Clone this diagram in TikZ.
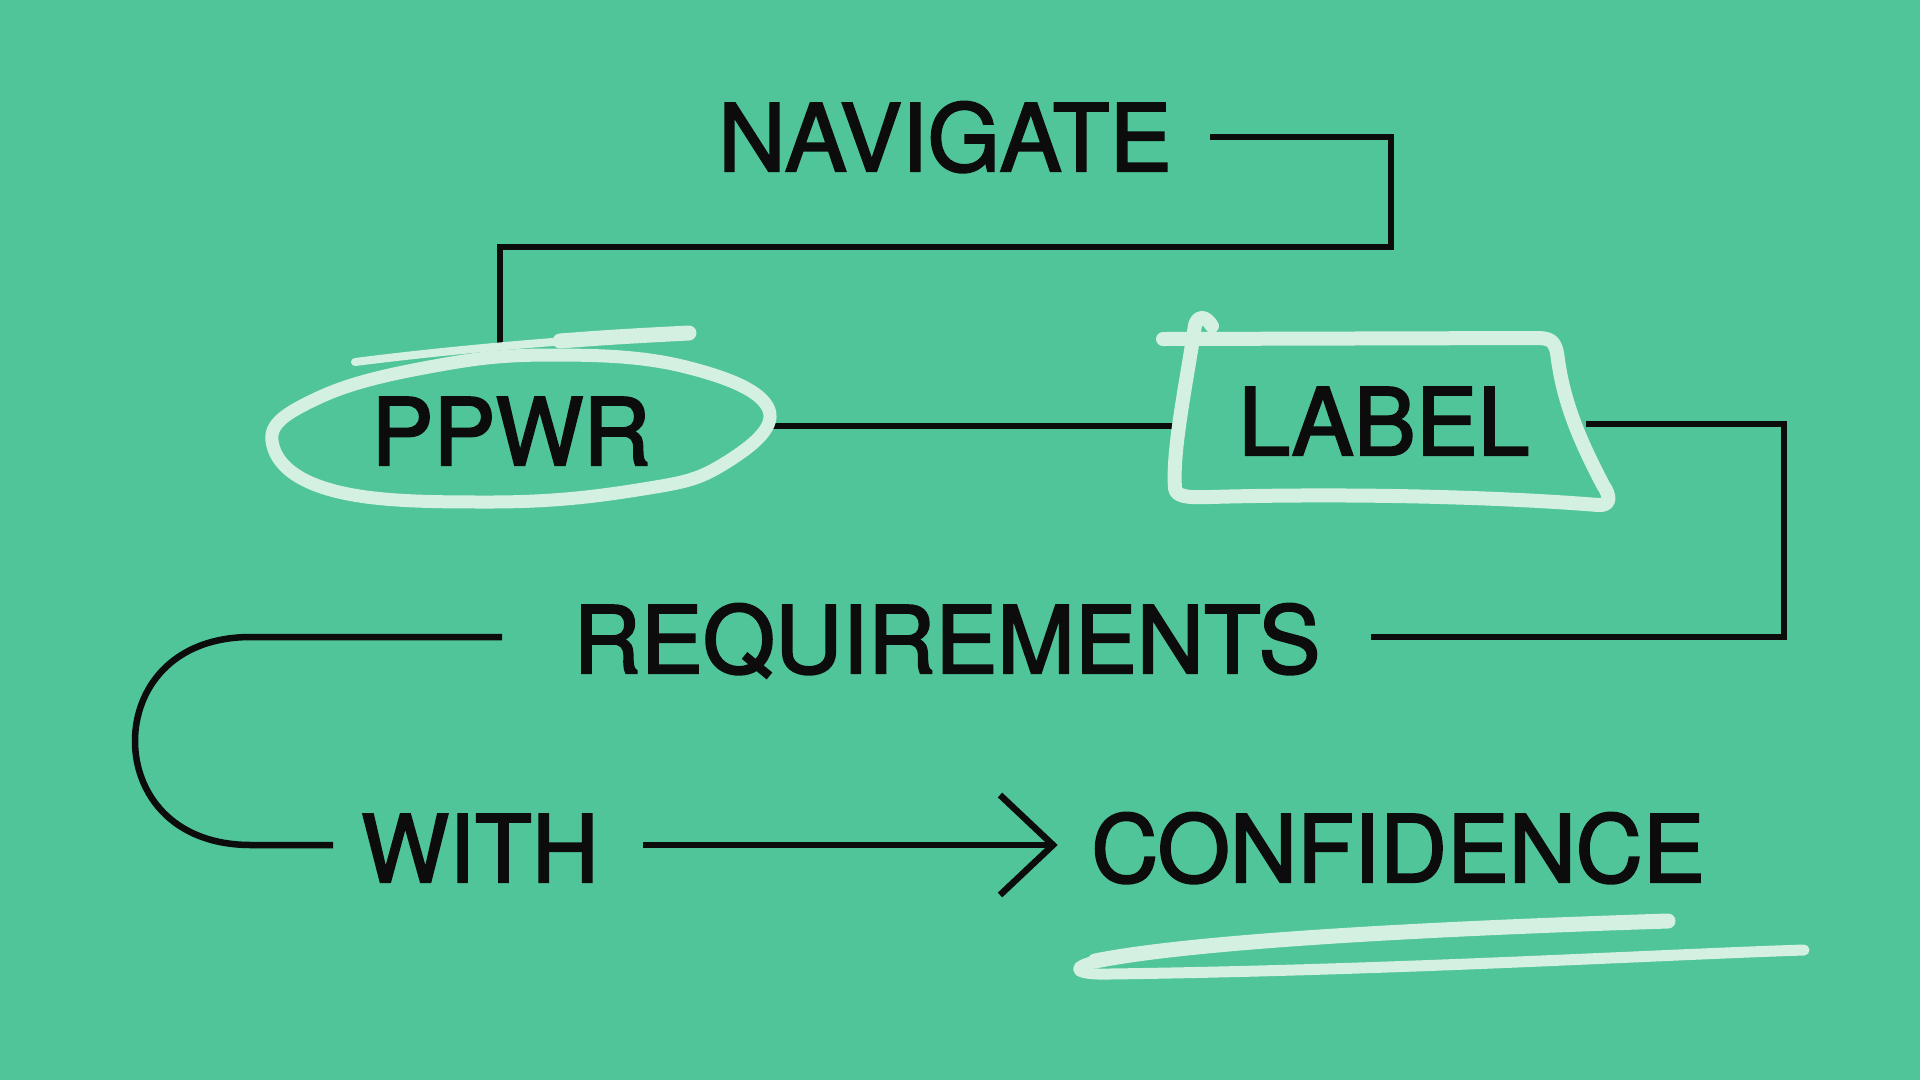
\documentclass[tikz,border=0pt]{standalone}
\usepackage{fontspec}
\setmainfont{TeX Gyre Heros}
\newfontfamily\wordfont{TeX Gyre Heros}[FakeBold=2.2]
\usetikzlibrary{calc}
\definecolor{bg}{RGB}{80,197,154}
\definecolor{chalk}{RGB}{212,240,224}
\definecolor{ink}{RGB}{12,12,12}
\begin{document}
\begin{tikzpicture}[x=1pt,y=-1pt,
  word/.style={font=\wordfont\fontsize{93pt}{100pt}\selectfont, text=ink, inner sep=0pt, anchor=base},
  wire/.style={draw=ink, line width=6.5pt},
  chalkline/.style={draw=chalk, line width=14pt, line cap=round, line join=round}]
\fill[bg] (0,0) rectangle (1920,1080);
\useasboundingbox (0,0) rectangle (1920,1080);

% words
\node[word] (nav)  at (945,171)  {NAVIGATE};
\node[word] (ppwr) at (511,465)  {PPWR};
\node[word] (lab)  at (1384,455) {LABEL};
\node[word] (req)  at (947,673)  {REQUIREMENTS};
\node[word] (with) at (480,882)  {WITH};
\node[word] (conf) at (1398,882) {CONFIDENCE};

% connector end points
\coordinate (navR)   at (1210,137);
\coordinate (ringT)  at (500,345);
\coordinate (ringE)  at (770,426);
\coordinate (boxW)   at (1176,426);
\coordinate (boxE)   at (1586,424);
\coordinate (reqR)   at (1371,637);
\coordinate (reqL)   at (502,637);
\coordinate (withL)  at (333,845);
\coordinate (withR)  at (643,845);
\coordinate (tip)    at (1053,845);

% black connectors
\draw[wire] (navR) -| (1391,247) -| (ringT);
\draw[wire] (ringE) -- (boxW);
\draw[wire] (boxE) -| (1784,637) -- (reqR);
\draw[wire] (reqL) -- (251,637)
  .. controls (171,637) and (135,690) .. (135,741)
  .. controls (135,792) and (171,845) .. (251,845) -- (withL);
\draw[wire] (withR) -- (tip);
\draw[wire, line join=miter] ($(tip)+(-53,-50)$) -- (tip) -- ($(tip)+(-53,50)$);

% hand-drawn ring round PPWR
\draw[chalkline, line width=13pt] plot[smooth cycle, tension=0.7] coordinates
  {(551,355) (686,367) (769,410) (722,465) (637,490) (490,502) (331,490) (272,441) (318,398) (429,367)};
\draw[chalkline, line width=8pt] (355,362) .. controls (450,350) and (560,340) .. (689,333);
\draw[chalkline, line width=15pt] (560,341) .. controls (610,337) and (650,335) .. (689,333);

% hand-drawn box round LABEL
\draw[chalkline] (1212,326) .. controls (1206,316) and (1198,315) .. (1195,325)
  .. controls (1187,380) and (1172,450) .. (1175,488)
  .. controls (1176,496) and (1185,498) .. (1210,497)
  .. controls (1350,493) and (1500,497) .. (1598,505)
  .. controls (1612,506) and (1610,495) .. (1603,485)
  .. controls (1585,450) and (1565,410) .. (1558,360)
  .. controls (1556,342) and (1552,339) .. (1540,338)
  -- (1163,339);

% hand-drawn underline under CONFIDENCE
\draw[chalkline, line width=15pt] (1668,921) .. controls (1450,928) and (1200,940) .. (1095,961);
\draw[chalkline, line width=11pt] (1095,961) .. controls (1070,967) and (1072,975) .. (1110,974)
  .. controls (1400,970) and (1650,955) .. (1804,950);
\end{tikzpicture}
\end{document}
